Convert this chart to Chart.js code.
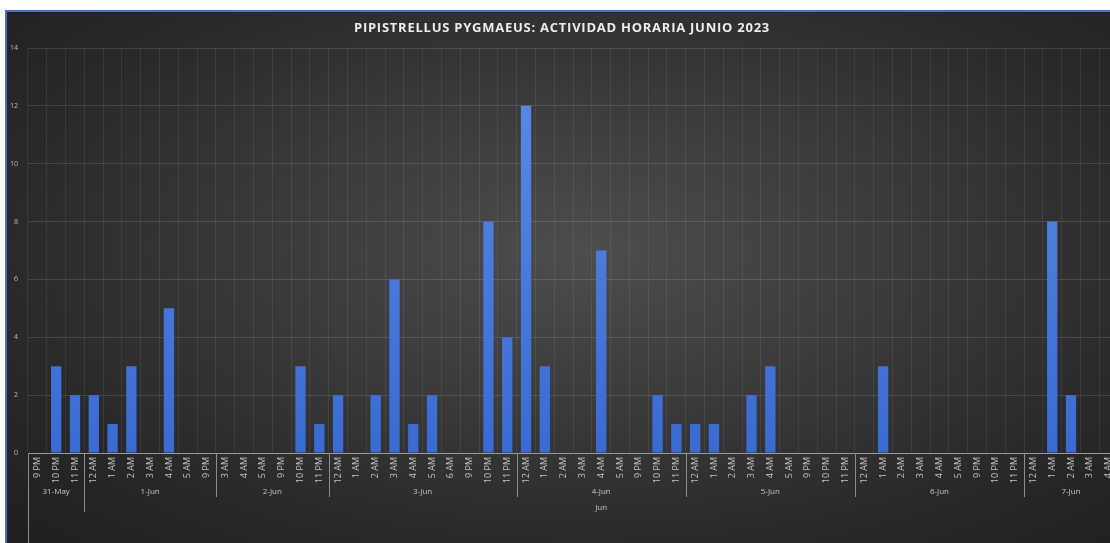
<!DOCTYPE html>
<html>
<head>
<meta charset="utf-8">
<script src="https://cdn.jsdelivr.net/npm/chart.js@4.4.1/dist/chart.umd.min.js"></script>
<style>
  html, body { margin: 0; padding: 0; background: #ffffff; width: 1110px; height: 543px; overflow: hidden; }
  #frame {
    position: absolute; left: 5px; top: 10px; width: 1120px; height: 533px;
    border-top: 2px solid #4a72c4; border-left: 2px solid #4a72c4;
    box-sizing: border-box;
    background: radial-gradient(ellipse farthest-corner at 52% 45%, #4d4d4d 0%, #3c3c3c 35%, #292929 72%, #1f1f1f 100%);
  }
  #chart { position: absolute; left: 0; top: 0; }
</style>
</head>
<body>
<div id="frame"></div>
<canvas id="chart" width="1125" height="543"></canvas>
<script>
// ---- Data ----
const chartTitle = 'PIPISTRELLUS PYGMAEUS: ACTIVIDAD HORARIA JUNIO 2023';
const hourLabels = [
  '9 PM','10 PM','11 PM',
  '12 AM','1 AM','2 AM','3 AM','4 AM','5 AM','9 PM',
  '3 AM','4 AM','5 AM','9 PM','10 PM','11 PM',
  '12 AM','1 AM','2 AM','3 AM','4 AM','5 AM','6 AM','9 PM','10 PM','11 PM',
  '12 AM','1 AM','2 AM','3 AM','4 AM','5 AM','9 PM','10 PM','11 PM',
  '12 AM','1 AM','2 AM','3 AM','4 AM','5 AM','9 PM','10 PM','11 PM',
  '12 AM','1 AM','2 AM','3 AM','4 AM','5 AM','9 PM','10 PM','11 PM',
  '12 AM','1 AM','2 AM','3 AM','4 AM'
];
const counts = [
  0,3,2,
  2,1,3,0,5,0,0,
  0,0,0,0,3,1,
  2,0,2,6,1,2,0,0,8,4,
  12,3,0,0,7,0,0,2,1,
  1,1,0,2,3,0,0,0,0,
  0,3,0,0,0,0,0,0,0,
  0,8,2,0,0
];
const dayLabels = ['31-May','1-Jun','2-Jun','3-Jun','4-Jun','5-Jun','6-Jun','7-Jun'];
const daySizes  = [3,7,6,10,9,9,9,5];
const monthLabels = ['', 'Jun'];
const monthSizes  = [3, 55];
const yTicks = [0,2,4,6,8,10,12,14];

// ---- Plugins ----
const titlePlugin = {
  id: 'customTitle',
  afterDraw(chart) {
    const ctx = chart.ctx;
    ctx.save();
    ctx.font = 'bold 13px "Open Sans", sans-serif';
    ctx.letterSpacing = '0.75px';
    ctx.fillStyle = '#ececec';
    ctx.textAlign = 'center';
    ctx.textBaseline = 'middle';
    ctx.fillText(chartTitle, 562, 28);
    ctx.restore();
  }
};

const groupPlugin = {
  id: 'groupAxis',
  afterDraw(chart) {
    const x = chart.scales.x;
    const ctx = chart.ctx;
    const axisY = chart.chartArea.bottom;
    const step = x.getPixelForValue(1) - x.getPixelForValue(0);
    const edge = i => x.getPixelForValue(i) - step / 2;
    ctx.save();
    ctx.strokeStyle = '#8c8c8c';
    ctx.lineWidth = 1;
    ctx.fillStyle = '#c4c4c4';
    ctx.font = '8px "Open Sans", sans-serif';
    ctx.textAlign = 'center';
    ctx.textBaseline = 'middle';
    ctx.beginPath();
    ctx.moveTo(Math.round(edge(0)) + 0.5, axisY);
    ctx.lineTo(Math.round(edge(0)) + 0.5, chart.height);
    ctx.stroke();
    let start = 0;
    dayLabels.forEach((lab, k) => {
      const end = start + daySizes[k];
      if (start > 0) {
        const px = Math.round(edge(start)) + 0.5;
        ctx.beginPath();
        ctx.moveTo(px, axisY);
        ctx.lineTo(px, axisY + 44);
        ctx.stroke();
      }
      const cx = (edge(start) + edge(end)) / 2;
      ctx.fillText(lab, cx, axisY + 39);
      start = end;
    });
    start = 0;
    monthLabels.forEach((lab, k) => {
      const end = start + monthSizes[k];
      if (start > 0) {
        const px = Math.round(edge(start)) + 0.5;
        ctx.beginPath();
        ctx.moveTo(px, axisY);
        ctx.lineTo(px, axisY + 59);
        ctx.stroke();
      }
      const cx = (edge(start) + edge(end)) / 2;
      if (lab) ctx.fillText(lab, cx, axisY + 55);
      start = end;
    });
    ctx.restore();
  }
};

const ctx = document.getElementById('chart').getContext('2d');
new Chart(ctx, {
  type: 'bar',
  data: {
    labels: hourLabels,
    datasets: [{
      label: 'Pipistrellus pygmaeus',
      data: counts,
      backgroundColor: (c) => {
        const area = c.chart.chartArea;
        if (!area) return '#4a78d6';
        const g = c.chart.ctx.createLinearGradient(0, area.top, 0, area.bottom);
        g.addColorStop(0, '#5f8be6');
        g.addColorStop(1, '#3a6bd2');
        return g;
      },
      borderWidth: 0,
      categoryPercentage: 1.0,
      barPercentage: 0.55
    }]
  },
  options: {
    responsive: false,
    animation: false,
    layout: { padding: { top: 48, right: 7, left: 0, bottom: 0 } },
    plugins: {
      legend: { display: false },
      tooltip: { enabled: false },
      title: { display: false }
    },
    scales: {
      x: {
        type: 'category',
        offset: true,
        grid: { display: true, offset: true, color: 'rgba(255,255,255,0.07)', drawTicks: false },
        border: { display: true, color: '#9a9a9a', width: 1 },
        ticks: {
          autoSkip: false, maxRotation: 90, minRotation: 90, padding: 4,
          color: '#c4c4c4', font: { family: '"Open Sans", sans-serif', size: 9 }
        },
        afterFit(scale) { scale.height = 90; }
      },
      y: {
        min: 0, max: 14,
        afterBuildTicks(scale) { scale.ticks = yTicks.map(v => ({ value: v })); },
        grid: { color: 'rgba(255,255,255,0.13)', drawTicks: false },
        border: { display: false },
        ticks: {
          color: '#bdbdbd', padding: 10,
          font: { family: '"Open Sans", sans-serif', size: 7 }
        },
        afterFit(scale) { scale.width = 28; }
      }
    }
  },
  plugins: [titlePlugin, groupPlugin]
});
</script>
</body>
</html>
